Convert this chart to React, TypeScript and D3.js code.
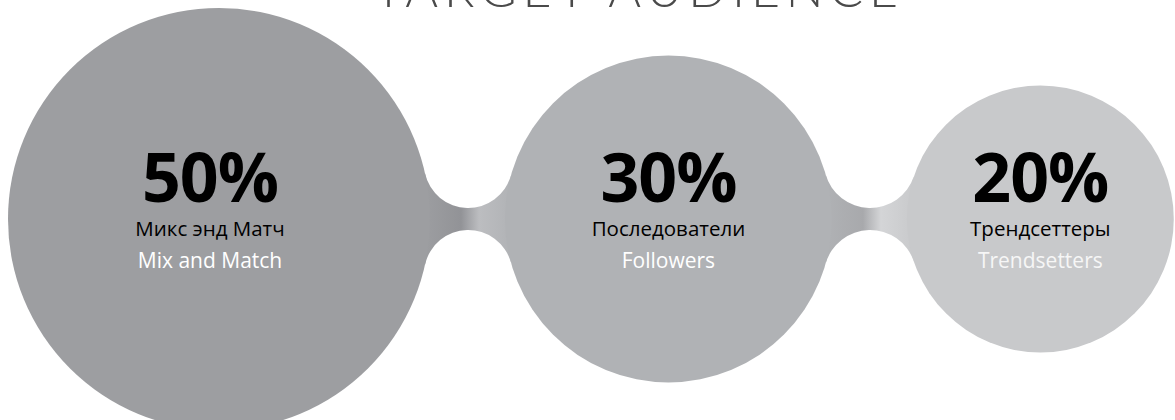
import React from "react";
import * as d3 from "d3";

// ---- data ----
const shares = [50, 30, 20];
const percentLabels = ["50%", "30%", "20%"];
const ruLabels = ["Микс энд Матч", "Последователи", "Трендсеттеры"];
const enLabels = ["Mix and Match", "Followers", "Trendsetters"];
const title = "TARGET AUDIENCE";

// ---- layout / style ----
const W = 1175;
const H = 420;
const leftEdge = 8;
const gap = 75;
const cy = 219;
const neckHalf = 11;
const fills = ["#9d9ea1", "#b0b2b5", "#c8c9cb"];
const neckDark = ["#929397", "#a8a9ac"];
const neckLight = ["#bcbdc0", "#d4d5d7"];
const enFills = ["#ffffff", "#ffffff", "#f6f6f6"];
const textDx = [-9, 0, 0];

const rScale = d3.scaleSqrt().domain([0, 50]).range([0, 211]);

type Circ = { cx: number; r: number };

function solveBridge(c1: Circ, c2: Circ) {
  const d = c2.cx - c1.cx;
  const geo = (rf: number) => {
    const R1 = c1.r + rf;
    const R2 = c2.r + rf;
    const a = (d * d + R1 * R1 - R2 * R2) / (2 * d);
    const h = Math.sqrt(Math.max(0, R1 * R1 - a * a));
    return { a, h, R1, R2 };
  };
  let lo = (d - c1.r - c2.r) / 2 + 1e-6;
  let hi = 400;
  for (let i = 0; i < 80; i++) {
    const mid = (lo + hi) / 2;
    const g = geo(mid);
    if (g.h - mid < neckHalf) lo = mid;
    else hi = mid;
  }
  const rf = (lo + hi) / 2;
  const { a, h, R1, R2 } = geo(rf);
  const fx = c1.cx + a;
  const fu = [fx, cy - h];
  const fl = [fx, cy + h];
  const tp = (c: Circ, R: number, f: number[]) => [
    c.cx + (c.r * (f[0] - c.cx)) / R,
    cy + (c.r * (f[1] - cy)) / R,
  ];
  const t1u = tp(c1, R1, fu);
  const t2u = tp(c2, R2, fu);
  const t1l = tp(c1, R1, fl);
  const t2l = tp(c2, R2, fl);
  const p = `M${t1u[0]},${t1u[1]} A${rf},${rf} 0 0 0 ${t2u[0]},${t2u[1]} L${t2l[0]},${t2l[1]} A${rf},${rf} 0 0 0 ${t1l[0]},${t1l[1]} Z`;
  return { path: p, neckX: fx, rf };
}

export default function App() {
  const radii = shares.map((v) => rScale(v));
  const circles: Circ[] = [];
  let x = leftEdge;
  radii.forEach((r, i) => {
    if (i > 0) x += gap;
    circles.push({ cx: x + r, r });
    x += 2 * r;
  });
  const bridges = circles.slice(1).map((c, i) => solveBridge(circles[i], c));

  return (
    <div style={{ position: "absolute", left: 0, top: 0 }}>
      <svg width={W} height={H} style={{ display: "block" }}>
        <defs>
          {bridges.map((b, i) => (
            <linearGradient
              key={i}
              id={`bridge${i}`}
              gradientUnits="userSpaceOnUse"
              x1={b.neckX - 45}
              x2={b.neckX + 45}
              y1={0}
              y2={0}
            >
              <stop offset="0" stopColor={fills[i]} />
              <stop offset="0.42" stopColor={neckDark[i]} />
              <stop offset="0.62" stopColor={neckLight[i]} />
              <stop offset="1" stopColor={fills[i + 1]} />
            </linearGradient>
          ))}
        </defs>
        <rect width={W} height={H} fill="#ffffff" />
        <text
          x={636}
          y={7}
          textAnchor="middle"
          fontFamily="Lato, 'Open Sans', sans-serif"
          fontWeight={300}
          fontSize={50}
          fill="#4a4a4a"
          textLength={524}
          lengthAdjust="spacing"
        >
          {title}
        </text>
        {bridges.map((b, i) => (
          <path key={i} d={b.path} fill={`url(#bridge${i})`} />
        ))}
        {circles.map((c, i) => (
          <circle key={i} cx={c.cx} cy={cy} r={c.r} fill={fills[i]} />
        ))}
        {circles.map((c, i) => (
          <g key={i} transform={`translate(${c.cx + textDx[i]},0)`} textAnchor="middle" fontFamily="'Open Sans', sans-serif">
            <text y={202} fontSize={68} fontWeight={700} fill="#000000" letterSpacing={-1}>
              {percentLabels[i]}
            </text>
            <text y={236} fontSize={20.5} fontWeight={400} fill="#000000">
              {ruLabels[i]}
            </text>
            <text y={268} fontSize={21} fontWeight={500} fill={enFills[i]}>
              {enLabels[i]}
            </text>
          </g>
        ))}
      </svg>
    </div>
  );
}
